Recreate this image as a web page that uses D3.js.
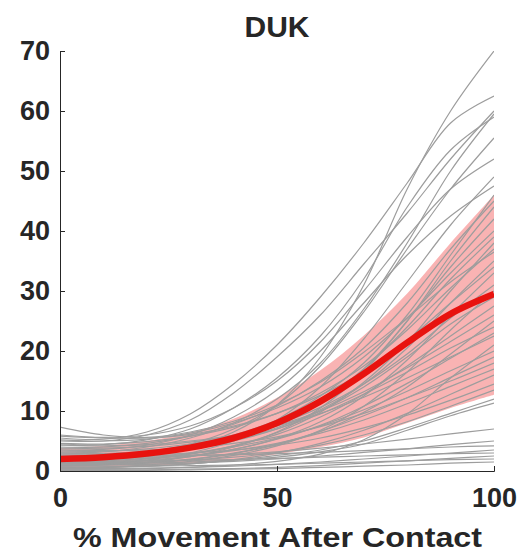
<!DOCTYPE html>
<html>
<head>
<meta charset="utf-8">
<script src="https://cdn.jsdelivr.net/npm/d3@7"></script>
<style>
    body { margin: 0; background: white; }
    text { font-family: "Liberation Sans", Arial, Helvetica, sans-serif; font-weight: bold; fill: #262626; }
</style>
</head>
<body>
<svg id="duk-svg"></svg>
<script>
// sample positions along the movement (%)
const xs = [0, 10, 20, 30, 40, 50, 60, 70, 80, 90, 100];

// individual trials (grey), one row per trial, values at xs
const greyLines = [
    [2.0, 2.2, 2.8, 4.0, 6.5, 11, 19, 31, 47, 60, 70],
    [5.5, 5.3, 6.5, 9.5, 14.5, 21, 29, 38, 48, 58, 62.5],
    [5.0, 5.0, 6.0, 8.5, 13, 19, 26, 34.5, 43, 52, 60],
    [3.0, 3.2, 4.0, 5.5, 8.0, 12, 18, 27, 38, 50, 59.5],
    [4.5, 4.4, 5.2, 7.0, 10.5, 15.5, 22.5, 32, 44, 53.5, 59],
    [2.5, 2.6, 3.2, 4.5, 7.0, 11, 17.5, 26.5, 37, 47, 55.5],
    [6.0, 5.6, 6.0, 7.5, 10.5, 15, 21.5, 30, 39, 47, 52],
    [1.0, 1.2, 1.8, 3.0, 5.0, 8.5, 14, 22, 31.5, 41, 49],
    [3.5, 3.6, 4.3, 6.0, 9.0, 13.5, 20, 28, 36, 42.5, 47.5],
    [2.4, 2.6, 3.2, 4.3, 6.0, 8.5, 12.5, 18, 26, 36, 46],
    [4.0, 4.0, 4.6, 5.8, 7.8, 10.8, 15, 20.5, 28, 37, 45],
    [1.8, 2.0, 2.6, 3.6, 5.2, 7.6, 11.5, 17, 25, 35, 44],
    [0.8, 1.0, 1.5, 2.4, 4.0, 6.5, 10.5, 16.5, 25, 34, 42],
    [5.2, 5.0, 5.3, 6.3, 8.0, 10.5, 14, 19, 25.5, 33, 40],
    [2.0, 2.2, 2.8, 3.8, 5.5, 8.0, 11.8, 17, 24, 32, 39],
    [1.4, 1.5, 2.0, 2.8, 4.2, 6.4, 9.8, 14.8, 21.5, 30, 38],
    [4.6, 4.5, 4.9, 5.8, 7.3, 9.6, 13, 17.5, 23.5, 30.5, 37],
    [7.3, 6.0, 5.6, 6.5, 8.3, 11, 14.8, 19.8, 25.5, 31.5, 36.5],
    [2.6, 2.7, 3.1, 3.9, 5.2, 7.2, 10.2, 14.5, 20.5, 28, 35],
    [5.8, 5.5, 5.5, 6.1, 7.5, 9.6, 12.6, 16.6, 21.8, 28, 34],
    [1.2, 1.3, 1.7, 2.4, 3.6, 5.4, 8.2, 12.5, 18.5, 26, 33],
    [3.2, 3.3, 3.7, 4.5, 5.8, 7.8, 10.6, 14.5, 19.5, 25.5, 31],
    [0.6, 0.7, 1.0, 1.6, 2.6, 4.2, 6.8, 10.8, 16.5, 23.5, 30],
    [2.2, 2.4, 2.9, 3.7, 5.0, 7.0, 10, 14, 19, 24.5, 29],
    [1.6, 1.7, 2.1, 2.9, 4.2, 6.1, 9.0, 12.8, 17.5, 22.5, 27.5],
    [3.8, 3.8, 4.1, 4.8, 5.9, 7.6, 10, 13.2, 17.2, 21.6, 26],
    [0.9, 1.0, 1.3, 1.9, 2.9, 4.4, 6.6, 9.8, 14, 19.5, 25],
    [2.8, 2.9, 3.3, 4.0, 5.2, 7.0, 9.5, 12.8, 16.5, 20.5, 24],
    [1.3, 1.4, 1.8, 2.5, 3.6, 5.3, 7.6, 10.8, 14.6, 18.8, 23],
    [4.3, 4.2, 4.4, 5.0, 6.0, 7.5, 9.6, 12.3, 15.5, 19, 22.5],
    [0.3, 0.3, 0.4, 0.6, 1.0, 1.6, 2.8, 5.2, 9.5, 15.5, 21],
    [2.0, 2.1, 2.4, 3.0, 4.0, 5.5, 7.5, 10.2, 13.3, 16.7, 20],
    [1.0, 1.1, 1.4, 2.0, 3.0, 4.5, 6.6, 9.2, 12.2, 15.6, 19],
    [3.5, 3.4, 3.5, 3.9, 4.6, 5.7, 7.4, 9.6, 12.2, 15, 18],
    [1.8, 1.9, 2.1, 2.6, 3.4, 4.6, 6.3, 8.5, 11.2, 14.1, 17],
    [0.5, 0.6, 0.8, 1.2, 1.9, 3.0, 4.6, 6.8, 9.6, 12.8, 16],
    [2.6, 2.6, 2.7, 3.0, 3.5, 4.3, 5.5, 7.2, 9.3, 11.8, 14.5],
    [1.4, 1.4, 1.5, 1.8, 2.3, 3.1, 4.3, 6.0, 8.2, 10.8, 13.5],
    [0.5, 0.6, 0.8, 1.2, 1.8, 2.6, 3.5, 5.0, 7.2, 9.6, 12],
    [1.2, 1.2, 1.3, 1.5, 1.8, 2.3, 3.2, 4.5, 6.8, 9.2, 11.3],
    [2.2, 2.2, 2.3, 2.5, 2.8, 3.2, 3.8, 4.5, 5.3, 6.2, 7],
    [1.0, 1.0, 1.1, 1.3, 1.6, 2.0, 2.5, 3.1, 3.7, 4.4, 5.0],
    [3.0, 2.8, 2.6, 2.6, 2.7, 2.9, 3.1, 3.4, 3.7, 4.0, 4.2],
    [0.4, 0.4, 0.5, 0.6, 0.8, 1.1, 1.5, 2.0, 2.5, 3.0, 3.5],
    [1.6, 1.6, 1.7, 1.8, 1.9, 2.1, 2.3, 2.5, 2.7, 2.9, 3.0],
    [0.2, 0.2, 0.2, 0.3, 0.4, 0.6, 0.9, 1.3, 1.7, 2.1, 2.5],
    [0.8, 0.8, 0.8, 0.9, 1.0, 1.1, 1.3, 1.5, 1.7, 1.9, 2.0],
    [0.1, 0.1, 0.1, 0.2, 0.3, 0.4, 0.6, 0.8, 1.0, 1.3, 1.5]
];

// mean (red) and shaded band (mean +/- sd)
const meanLine = [2.0, 2.3, 2.9, 3.9, 5.5, 8.0, 11.6, 16.2, 21.4, 26.2, 29.5];
const bandUpper = [3.8, 4.2, 5.0, 6.4, 8.7, 12.2, 16.8, 22.6, 29.6, 38, 46];
const bandLower = [0.4, 0.5, 0.8, 1.2, 1.8, 2.8, 4.0, 5.6, 8.0, 10.5, 12.7];

// axis ticks
const xTicks = [0, 50, 100];
const yTicks = [0, 10, 20, 30, 40, 50, 60, 70];

const width = 525;
const height = 554;
const plot = { left: 60, right: 494, top: 51, bottom: 471 };

const x = d3.scaleLinear().domain([0, 100]).range([plot.left, plot.right]);
const y = d3.scaleLinear().domain([0, 70]).range([plot.bottom, plot.top]);

const render_chart = () => {
    const svg = d3.select('#duk-svg')
        .attr("width", width)
        .attr("height", height);

    svg.append("defs")
        .append("clipPath")
        .attr("id", "plot-clip")
        .append("rect")
        .attr("x", plot.left)
        .attr("y", plot.top)
        .attr("width", plot.right - plot.left)
        .attr("height", plot.bottom - plot.top);

    const g = svg.append("g").attr("clip-path", "url(#plot-clip)");

    // shaded band
    const area = d3.area()
        .x((d, i) => x(xs[i]))
        .y0((d, i) => y(bandLower[i]))
        .y1((d) => y(d))
        .curve(d3.curveCatmullRom);

    g.append("path")
        .datum(bandUpper)
        .attr("d", area)
        .attr("fill", "#f9b3b3");

    // individual trials
    const line = d3.line()
        .x((d, i) => x(xs[i]))
        .y((d) => y(d))
        .curve(d3.curveCatmullRom);

    g.append("g")
        .selectAll("path")
        .data(greyLines)
        .join("path")
        .attr("d", line)
        .attr("fill", "none")
        .attr("stroke", "#9d9d9d")
        .attr("stroke-width", 1.2);

    // mean
    g.append("path")
        .datum(meanLine)
        .attr("d", line)
        .attr("fill", "none")
        .attr("stroke", "#e8130f")
        .attr("stroke-width", 6.5)
        .attr("stroke-linecap", "butt");

    // axes, ticks pointing in
    svg.append("g")
        .attr("transform", `translate(0, ${plot.bottom})`)
        .call(d3.axisBottom(x).tickValues(xTicks).tickSizeInner(-5).tickSizeOuter(-5).tickPadding(17))
        .call(a => a.selectAll("text").attr("font-size", 27).attr("font-family", null))
        .call(a => a.selectAll("line, path").attr("stroke", "#262626"));

    svg.append("g")
        .attr("transform", `translate(${plot.left}, 0)`)
        .call(d3.axisLeft(y).tickValues(yTicks).tickSizeInner(-5).tickSizeOuter(-5).tickPadding(10))
        .call(a => a.selectAll("text").attr("font-size", 27).attr("font-family", null))
        .call(a => a.selectAll("line, path").attr("stroke", "#262626"));

    // title
    svg.append("text")
        .attr("x", (plot.left + plot.right) / 2)
        .attr("y", 37)
        .attr("text-anchor", "middle")
        .attr("font-size", 30)
        .text("DUK");

    // x label
    svg.append("text")
        .attr("x", 277.5)
        .attr("y", 547)
        .attr("text-anchor", "middle")
        .attr("font-size", 28)
        .attr("textLength", 409)
        .attr("lengthAdjust", "spacingAndGlyphs")
        .text("% Movement After Contact");
};

render_chart();
</script>
</body>
</html>
